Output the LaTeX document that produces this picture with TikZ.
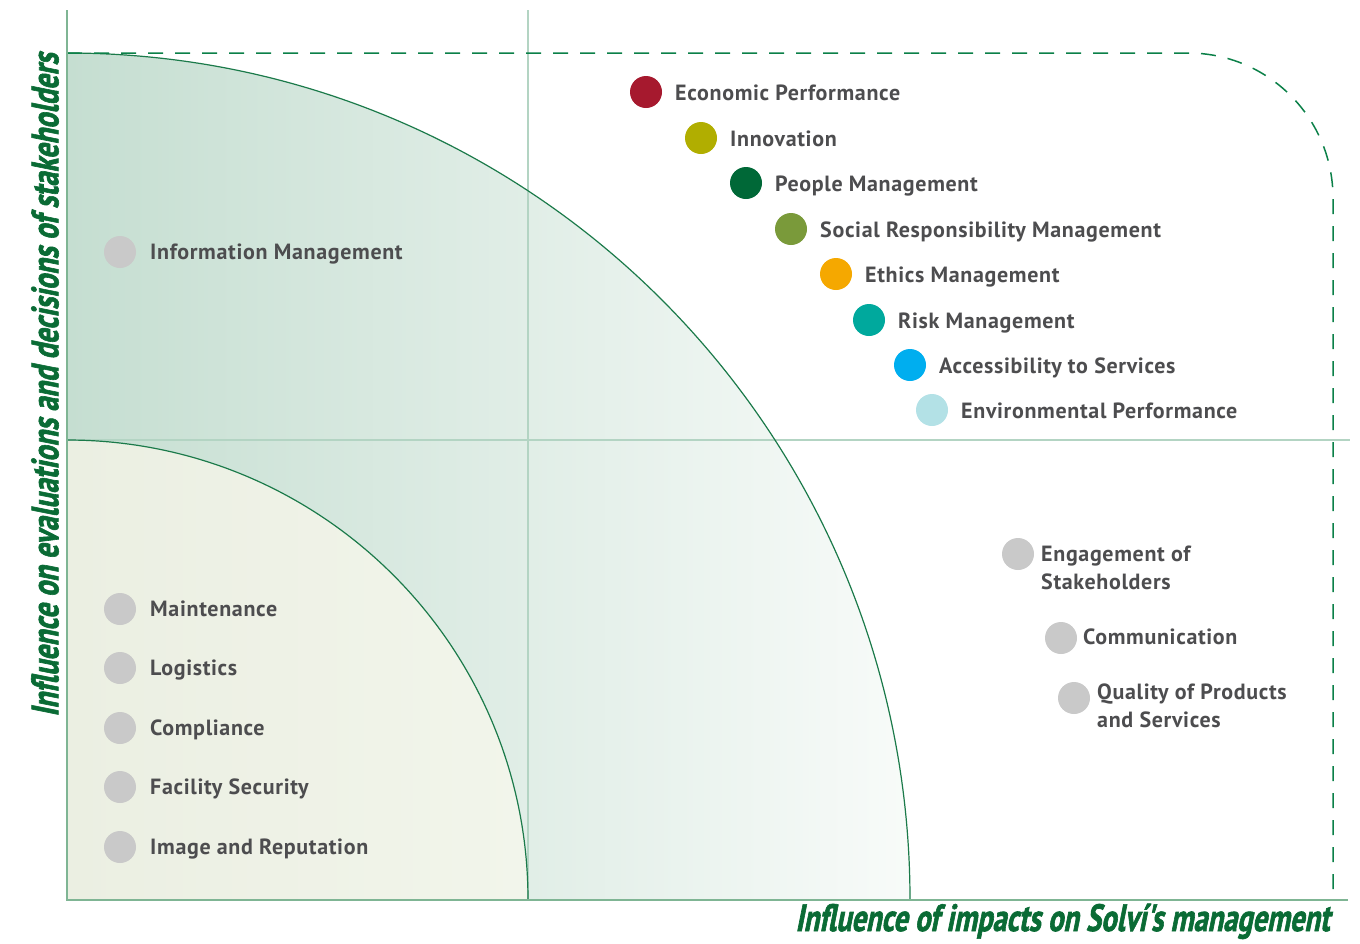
\documentclass[tikz,border=0pt]{standalone}
\usepackage{fontspec}
\setmainfont{PT Sans}
\newfontfamily\lblfont[LetterSpace=3]{PT Sans Bold}
\newfontfamily\axisfont[FakeSlant=0.2, FakeStretch=0.75, FakeBold=1.6]{PT Sans Bold}
\definecolor{axisline}{HTML}{7FB594}
\definecolor{gridline}{HTML}{B3D4C3}
\definecolor{arcline}{HTML}{1B7A4A}
\definecolor{dashgreen}{HTML}{0B8048}
\definecolor{labelgreen}{HTML}{0A6B35}
\definecolor{textgray}{HTML}{4D4D4F}
\definecolor{dotgray}{HTML}{C9C9C9}
\definecolor{outerL}{HTML}{C5DED1}
\definecolor{outerR}{HTML}{F8FBF9}
\definecolor{innerL}{HTML}{EBEFE2}
\definecolor{innerR}{HTML}{F2F5EB}
\definecolor{cEcon}{HTML}{A6192E}
\definecolor{cInno}{HTML}{B1AE00}
\definecolor{cPeople}{HTML}{006837}
\definecolor{cSocial}{HTML}{7A9A3A}
\definecolor{cEthics}{HTML}{F5A800}
\definecolor{cRisk}{HTML}{00A99D}
\definecolor{cAccess}{HTML}{00AEEF}
\definecolor{cEnv}{HTML}{B3E1E6}
\tikzset{
  dot/.style={circle, minimum size=32pt, inner sep=0pt, fill=#1},
  lbl/.style={anchor=base west, inner sep=0pt, text=textgray,
    font=\lblfont\fontsize{22}{28}\selectfont},
  axislbl/.style={inner sep=0pt, text=labelgreen,
    font=\axisfont\fontsize{38}{40}\selectfont},
}
\begin{document}
\begin{tikzpicture}[x=1pt,y=-1pt]
\useasboundingbox (0,0) rectangle (1360,943);

% outer quarter region (y axis points down, so the arc runs from -90 to 0)
\shade[left color=outerL, right color=outerR]
  (67,900) -- (67,53) arc[start angle=-90, end angle=0, x radius=843, y radius=847] -- cycle;
% inner quarter region
\shade[left color=innerL, right color=innerR]
  (67,900) -- (67,440) arc[start angle=-90, end angle=0, x radius=461, y radius=460] -- cycle;

% grid lines
\draw[gridline, line width=1.2pt] (528,10) -- (528,900);
\draw[gridline, line width=1.2pt] (67,440) -- (1350,440);

% arcs
\draw[arcline, line width=1.2pt] (67,53) arc[start angle=-90, end angle=0, x radius=843, y radius=847];
\draw[arcline, line width=1.2pt] (67,440) arc[start angle=-90, end angle=0, x radius=461, y radius=460];

% dashed boundary
\draw[dashgreen, line width=1.5pt, dash pattern=on 15pt off 12pt, rounded corners=145pt]
  (67,53) -- (1333,53) -- (1333,892);

% axes
\draw[axisline, line width=1.6pt] (67,10) -- (67,900) -- (1348,900);

% axis labels
\node[axislbl, rotate=90] (ylab) at (45,385) {Influence on evaluations and decisions of stakeholders};
\node[axislbl, anchor=base east] (xlab) at (1330,931) {Influence of impacts on Solví's management};

% material topics
\node[dot=cEcon] (d1) at (646,92) {};
\node[lbl] (t1) at (675,100) {Economic Performance};
\node[dot=cInno] (d2) at (701,138) {};
\node[lbl] (t2) at (730,146) {Innovation};
\node[dot=cPeople] (d3) at (746,183) {};
\node[lbl] (t3) at (775,191) {People Management};
\node[dot=cSocial] (d4) at (791,229) {};
\node[lbl] (t4) at (820,237) {Social Responsibility Management};
\node[dot=cEthics] (d5) at (836,274) {};
\node[lbl] (t5) at (865,282) {Ethics Management};
\node[dot=cRisk] (d6) at (869,320) {};
\node[lbl] (t6) at (898,328) {Risk Management};
\node[dot=cAccess] (d7) at (910,365) {};
\node[lbl] (t7) at (939,373) {Accessibility to Services};
\node[dot=cEnv] (d8) at (932,410) {};
\node[lbl] (t8) at (961,418) {Environmental Performance};

% other topics
\node[dot=dotgray] (g1) at (120,252) {};
\node[lbl] (s1) at (150,259) {Information Management};
\node[dot=dotgray] (g2) at (120,609) {};
\node[lbl] (s2) at (150,616) {Maintenance};
\node[dot=dotgray] (g3) at (120,668) {};
\node[lbl] (s3) at (150,675) {Logistics};
\node[dot=dotgray] (g4) at (120,728) {};
\node[lbl] (s4) at (150,735) {Compliance};
\node[dot=dotgray] (g5) at (120,787) {};
\node[lbl] (s5) at (150,794) {Facility Security};
\node[dot=dotgray] (g6) at (120,847) {};
\node[lbl] (s6) at (150,854) {Image and Reputation};

\node[dot=dotgray] (g7) at (1018,554) {};
\node[lbl] (s7) at (1041,561) {\begin{tabular}[t]{@{}l@{}}Engagement of\\Stakeholders\end{tabular}};
\node[dot=dotgray] (g8) at (1061,638) {};
\node[lbl] (s8) at (1083,644) {Communication};
\node[dot=dotgray] (g9) at (1074,698) {};
\node[lbl] (s9) at (1097,699) {\begin{tabular}[t]{@{}l@{}}Quality of Products\\and Services\end{tabular}};
\end{tikzpicture}
\end{document}
